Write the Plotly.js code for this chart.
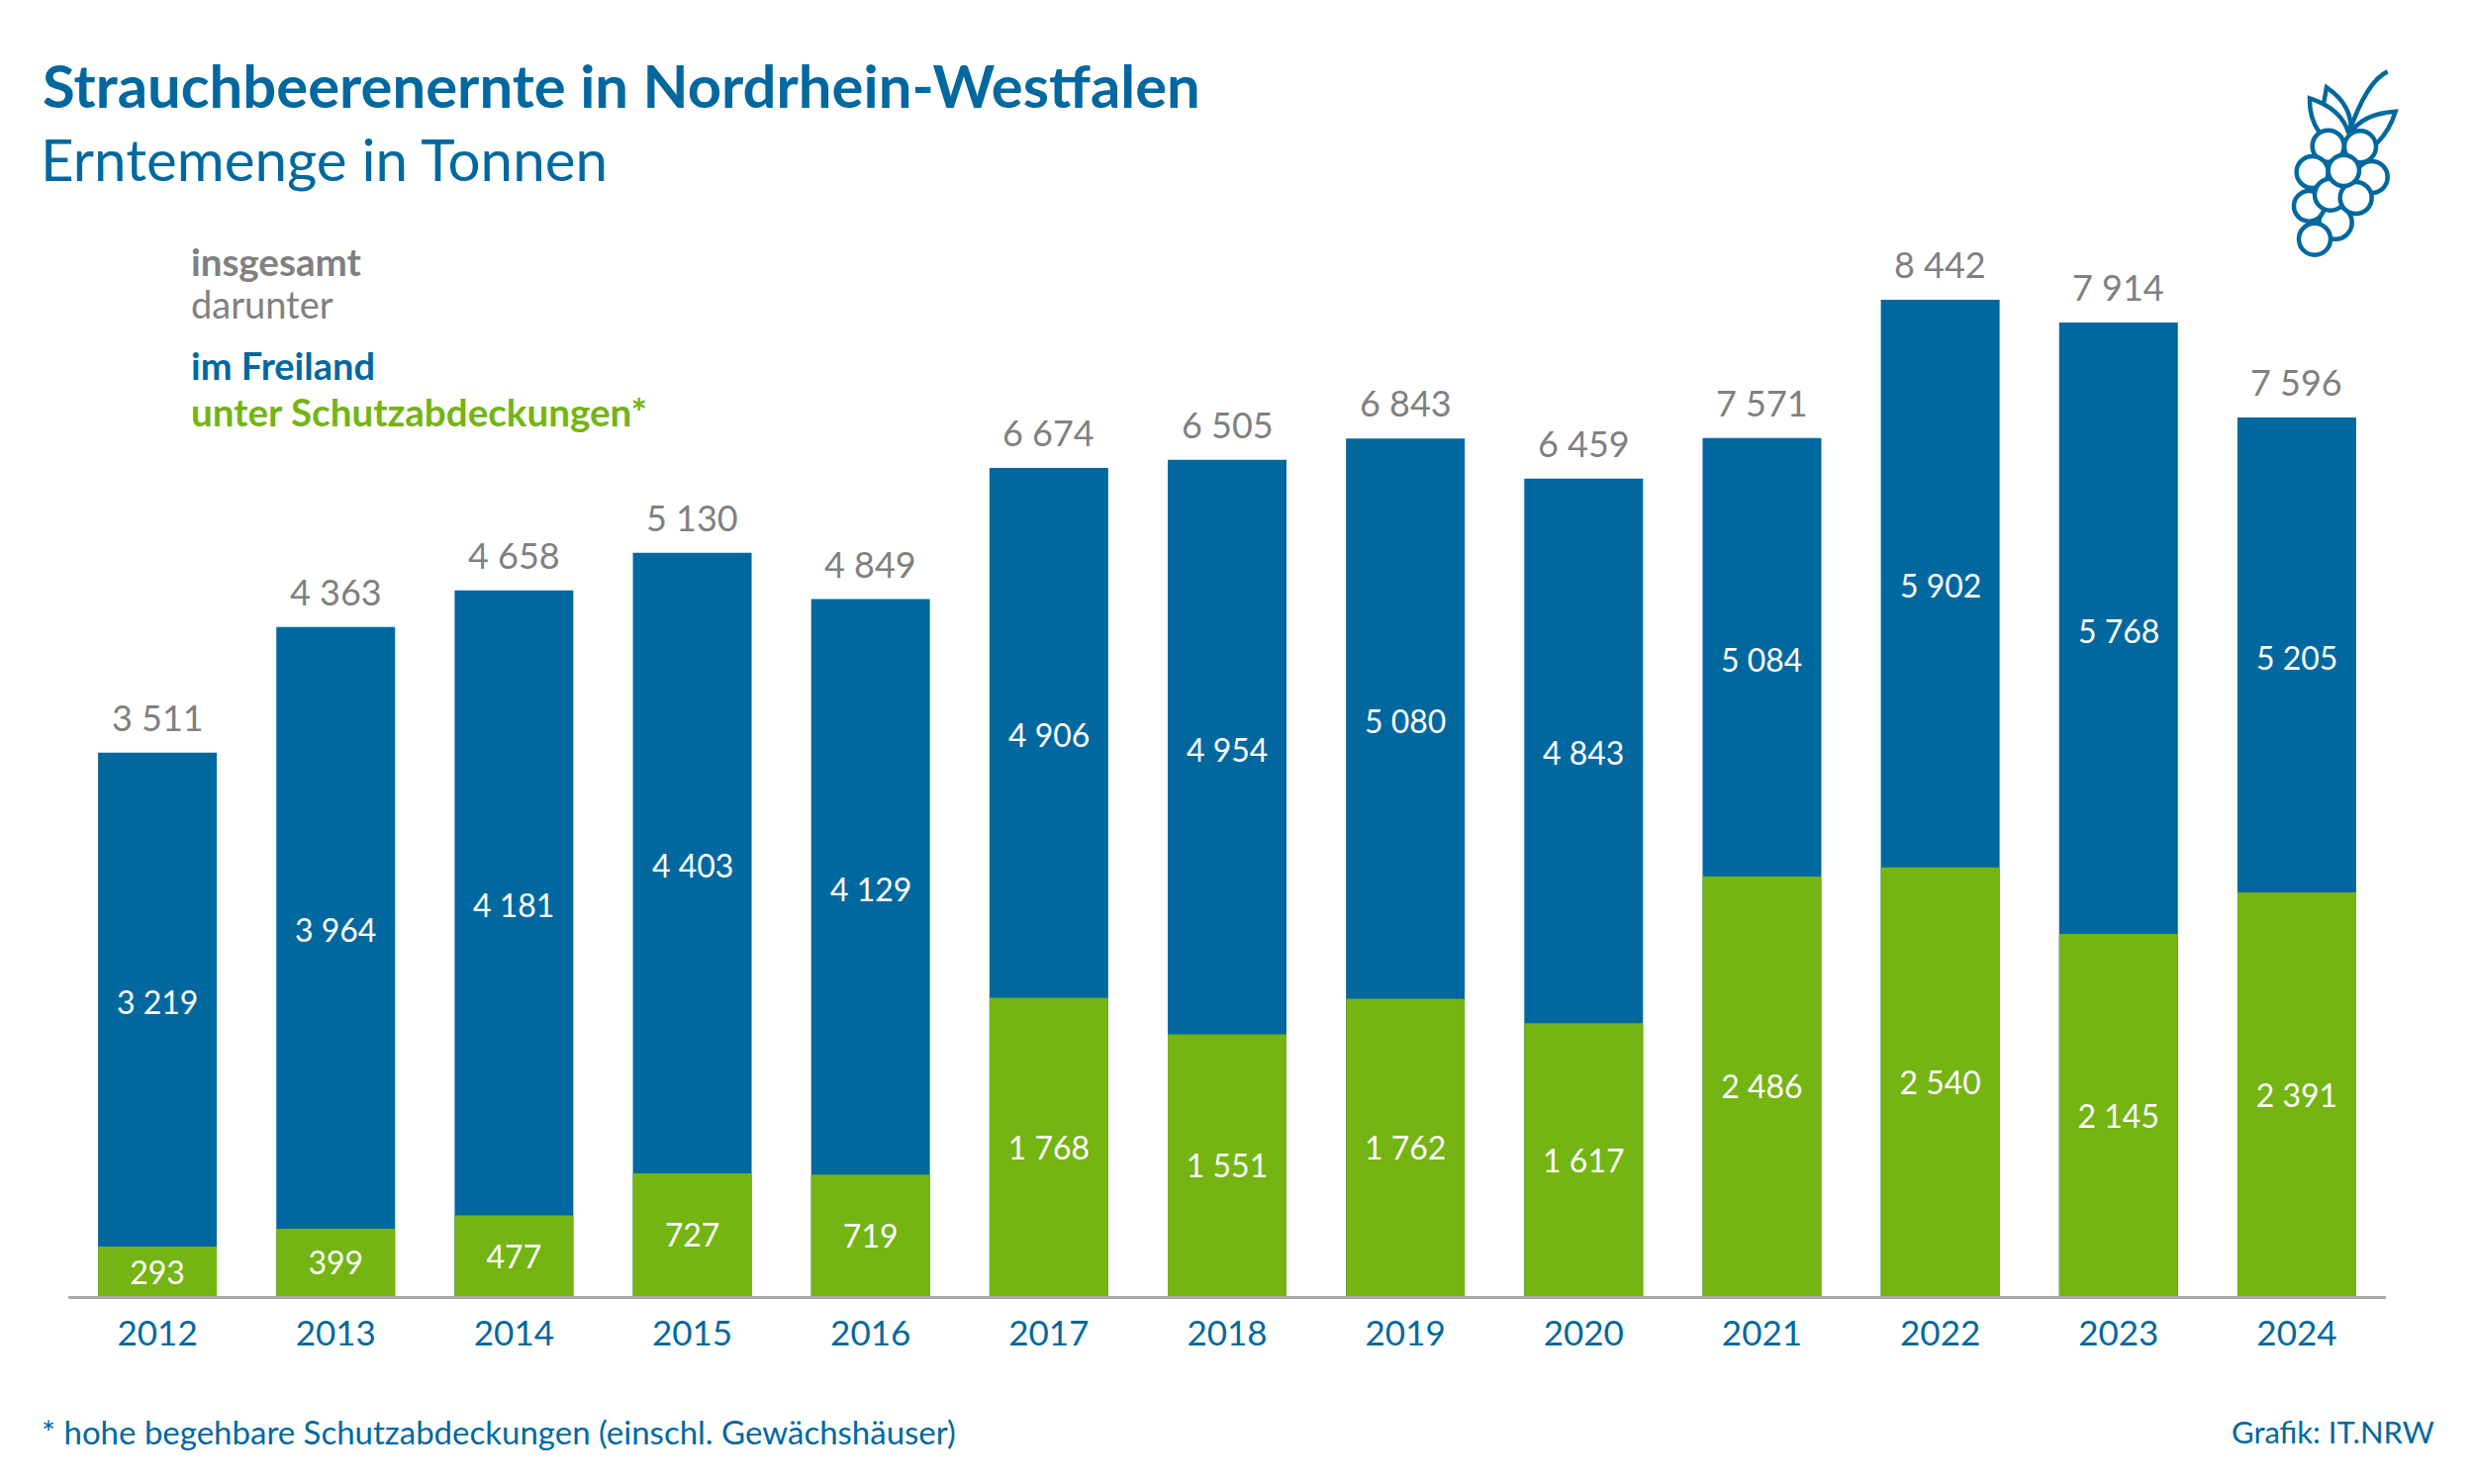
<!DOCTYPE html>
<html lang="de">
<head>
<meta charset="utf-8">
<title>Strauchbeerenernte in Nordrhein-Westfalen</title>
<script src="https://cdn.plot.ly/plotly-3.0.1.min.js"></script>
<style>html,body{margin:0;padding:0;background:#fff}</style>
</head>
<body>
<div id="grafico" style="width:2500px;height:1500px"></div>
<script>
const jahre = ['2012','2013','2014','2015','2016','2017','2018','2019','2020','2021','2022','2023','2024'];
const insgesamt = [3511,4363,4658,5130,4849,6674,6505,6843,6459,7571,8442,7914,7596];
const freiland = [3219,3964,4181,4403,4129,4906,4954,5080,4843,5084,5902,5768,5205];
const schutz = [293,399,477,727,719,1768,1551,1762,1617,2486,2540,2145,2391];

const BLAU = '#00689f';
const GRUEN = '#74b413';
const GRAU = '#808080';
const FONT = 'Lato, sans-serif';

// plot area in px, used to place the icon
const L = 69, R = 2411, T = 240, B = 1310;
const pos = (x, y) => [((2250 + x / 3) - L) / (R - L), (B - (40 + y / 3)) / (B - T)];

// tausender mit leerzeichen
const fmt = v => String(v).replace(/\B(?=(\d{3})+$)/g, ' ');

// beeren: [x, y, r] in zoom coordinates, back to front
const beeren = [[330,555,50],[250,505,46],[267,605,48],[440,417,48],[308,323,48],[405,325,48],[260,402,48],[315,470,48],[392,480,48],[355,397,47]];
const blaetter = [
	[['M',280,280],['Q',250,235,252,178],['Q',350,210,370,285]],
	[['M',295,190],['L',303,145],['Q',385,200,376,285]],
	[['M',375,285],['Q',410,225,512,218],['Q',495,275,455,315]],
	[['M',370,285],['Q',425,125,488,97]]
];

const shapes = [];
blaetter.forEach(b => {
	const path = b.map(s => {
		const pts = [];
		for (let i = 1; i < s.length; i += 2) pts.push(pos(s[i], s[i + 1]).join(','));
		return s[0] + pts.join(' ');
	}).join(' ');
	shapes.push({type: 'path', xref: 'paper', yref: 'paper', path: path, line: {color: BLAU, width: 4.5}});
});
beeren.forEach(b => {
	const a = pos(b[0] - b[2], b[1] + b[2]);
	const c = pos(b[0] + b[2], b[1] - b[2]);
	shapes.push({type: 'circle', xref: 'paper', yref: 'paper', x0: a[0], y0: a[1], x1: c[0], y1: c[1],
		fillcolor: '#fff', line: {color: BLAU, width: 4.5}});
});

const text = (x, y, t, size, color, anchor) => ({
	xref: 'paper', yref: 'paper', x: (x - L) / (R - L), y: (B - y) / (B - T), text: t, showarrow: false,
	xanchor: anchor || 'left', yanchor: 'middle', align: anchor || 'left', font: {family: FONT, size: size, color: color}
});

const annotations = [
	text(39, 160, 'Erntemenge in Tonnen', 58.3, BLAU),
	text(191, 264, '<b>insgesamt</b>', 38.6, GRAU),
	text(191, 307, 'darunter', 38, GRAU),
	text(191, 369, '<b>im Freiland</b>', 38, BLAU),
	text(191, 416, '<b>unter Schutzabdeckungen*</b>', 38.6, GRUEN),
	text(40, 1447, '* hohe begehbare Schutzabdeckungen (einschl. Gewächshäuser)', 33, BLAU),
	text(2462, 1447, 'Grafik: IT.NRW', 31, BLAU, 'right')
];
jahre.forEach((j, i) => {
	// summe steht über dem blauen balken
	annotations.push({x: i, y: freiland[i], text: fmt(insgesamt[i]), showarrow: false, yanchor: 'bottom', yshift: 12,
		font: {family: FONT, size: 36, color: GRAU}});
	// label in der mitte vom sichtbaren blauen teil
	annotations.push({x: i, y: (freiland[i] + schutz[i]) / 2, text: fmt(freiland[i]), showarrow: false, yanchor: 'middle', yshift: -2,
		font: {family: FONT, size: 32, color: '#fff'}});
});

const data = [
	{type: 'bar', name: 'im Freiland', x: jahre, y: freiland, marker: {color: BLAU}, hoverinfo: 'x+y'},
	{type: 'bar', name: 'unter Schutzabdeckungen*', x: jahre, y: schutz, marker: {color: GRUEN}, hoverinfo: 'x+y',
		text: schutz.map(fmt), textposition: 'inside', insidetextanchor: 'middle', textangle: 0,
		insidetextfont: {family: FONT, size: 32, color: '#fff'}}
];

const layout = {
	width: 2500, height: 1500,
	margin: {l: L, r: 2500 - R, t: T, b: 1500 - B, pad: 0},
	paper_bgcolor: '#fff', plot_bgcolor: '#fff',
	barmode: 'overlay', bargap: 0.334, showlegend: false,
	font: {family: FONT},
	title: {text: '<b>Strauchbeerenernte in Nordrhein-Westfalen</b>', x: 43 / 2500, xanchor: 'left', y: 1 - 88 / 1500, yanchor: 'middle',
		font: {family: FONT, size: 59.8, color: BLAU}},
	xaxis: {type: 'category', range: [-0.5, 12.5], showline: true, linecolor: '#aaaaaa', linewidth: 3, ticks: '', showgrid: false, zeroline: false,
		tickfont: {family: FONT, size: 35, color: BLAU}, ticklabelstandoff: 5},
	yaxis: {range: [0, (B - T) / 0.1706], visible: false, showgrid: false, zeroline: false},
	shapes: shapes,
	annotations: annotations
};

Plotly.newPlot('grafico', data, layout, {displayModeBar: false});
</script>
</body>
</html>
